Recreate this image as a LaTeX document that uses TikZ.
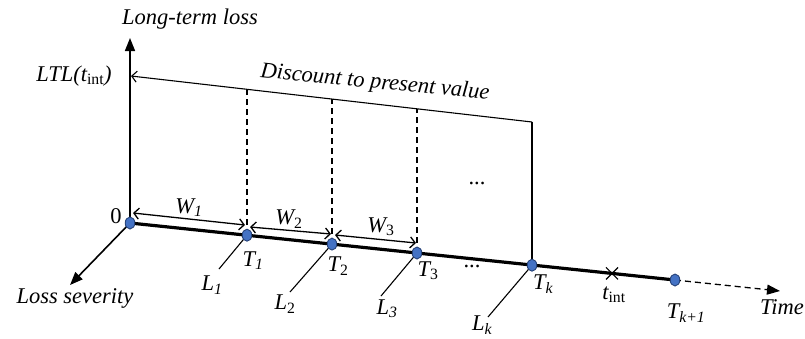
\documentclass[tikz,border=0pt]{standalone}
\usepackage{fontspec}
\setmainfont{Liberation Serif}
\usetikzlibrary{arrows.meta,shapes.geometric}
\definecolor{dotblue}{RGB}{68,114,196}
\definecolor{dotedge}{RGB}{38,66,120}
\newcommand\mysub[1]{\textsubscript{#1}}
\begin{document}
\begin{tikzpicture}[x=1pt,y=-1pt,
  lbl/.style={inner sep=0pt, font=\fontsize{22.5}{26}\selectfont\itshape},
  rlbl/.style={inner sep=0pt, font=\fontsize{22.5}{26}\selectfont},
  dotn/.style={ellipse,draw=dotedge,line width=0.9pt,fill=dotblue,minimum width=9.5pt,minimum height=12pt,inner sep=0pt},
  mainaxis/.style={line width=1.6pt,-{Triangle[length=13pt,width=10pt]}},
  thinline/.style={line width=1.1pt},
  dashline/.style={line width=1.1pt,dash pattern=on 6pt off 4pt},
  warrow/.style={line width=1.3pt,{Straight Barb[length=5pt,width=11pt]}-{Straight Barb[length=5pt,width=11pt]}},
  timeline/.style={line width=3.2pt}]
\useasboundingbox (0,0) rectangle (805,338);
% key points
\coordinate (pO) at (130,223);
\coordinate (p1) at (247,235.2);
\coordinate (p2) at (332,244.1);
\coordinate (p3) at (417,253);
\coordinate (pk) at (532,265.2);
\coordinate (pk1) at (675,280);
\coordinate (tint) at (612,273.4);
\coordinate (ytop) at (130,38);
\coordinate (tend) at (780,291);
\coordinate (sevend) at (70,285);
\coordinate (corner) at (532,122);
\coordinate (ltl) at (131,76);
\coordinate (d1) at (247,89.5);
\coordinate (d2) at (332,99.2);
\coordinate (d3) at (417,109);
\coordinate (l1) at (219,269);
\coordinate (l2) at (290,292);
\coordinate (l3) at (381,296);
\coordinate (lk) at (488,317);
\coordinate (w1a) at (133,213);
\coordinate (w1b) at (245,225);
\coordinate (w2a) at (250,227);
\coordinate (w2b) at (331,234);
\coordinate (w3a) at (335,235);
\coordinate (w3b) at (416,243);
% axes
\draw[mainaxis] (pO) -- (ytop);
\draw[mainaxis] (pO) -- (sevend);
\draw[timeline] (pO) -- (pk1);
\draw[line width=1.3pt,dash pattern=on 6pt off 4pt,-{Triangle[length=13pt,width=10pt]}] (pk1) -- (tend);
% discount line
\draw[thinline] (pk) -- (corner);
\draw[thinline,-{Straight Barb[length=5pt,width=11pt]}] (corner) -- (ltl);
\draw[dashline] (p1) -- (d1);
\draw[dashline] (p2) -- (d2);
\draw[dashline] (p3) -- (d3);
% loss lines
\draw[thinline] (p1) -- (l1);
\draw[thinline] (p2) -- (l2);
\draw[thinline] (p3) -- (l3);
\draw[thinline] (pk) -- (lk);
% W arrows
\draw[warrow] (w1a) -- (w1b);
\draw[warrow] (w2a) -- (w2b);
\draw[warrow] (w3a) -- (w3b);
% cross
\draw[line width=1.2pt] ([shift={(-6,-6)}]tint) -- ([shift={(6,6)}]tint);
\draw[line width=1.2pt] ([shift={(-6,6)}]tint) -- ([shift={(6,-6)}]tint);
% dots
\node[dotn] (dO) at (pO) {};
\node[dotn] (d1n) at (p1) {};
\node[dotn] (d2n) at (p2) {};
\node[dotn] (d3n) at (p3) {};
\node[dotn] (dkn) at (pk) {};
\node[dotn] (dk1n) at (pk1) {};
% labels
\node[lbl] (ylab) at (190,19) {Long-term loss};
\node[lbl] (ltllab) at (74,76) {LTL(\textit{t}\mysub{\upshape int})};
\node[lbl,rotate=-5.5] (disc) at (375,83) {Discount to present value};
\node[rlbl] (zero) at (116,216) {0};
\node[lbl] (sevlab) at (75,298) {Loss severity};
\node[lbl] (timelab) at (782,307) {Time};
\node[lbl] (W1) at (189,208) {W\mysub{1}};
\node[lbl] (W2) at (289,219) {W\mysub{\upshape 2}};
\node[lbl] (W3) at (381,227) {W\mysub{\upshape 3}};
\node[lbl] (T1) at (253,261) {T\mysub{1}};
\node[lbl] (T2) at (338,266) {T\mysub{\upshape 2}};
\node[lbl] (T3) at (428,271) {T\mysub{\upshape 3}};
\node[lbl] (Tk) at (543,284) {T\mysub{k}};
\node[lbl] (tintlab) at (614,295) {t\mysub{\upshape int}};
\node[lbl] (Tk1) at (686,313) {T\mysub{k+1}};
\node[lbl] (L1) at (212,285) {L\mysub{1}};
\node[lbl] (L2) at (285,304) {L\mysub{\upshape 2}};
\node[lbl] (L3) at (387,309) {L\mysub{3}};
\node[lbl] (Lk) at (482,325) {L\mysub{k}};
\node[rlbl] (dotsup) at (477,183) {...};
\node[rlbl] (dotslow) at (472,266) {...};
\end{tikzpicture}
\end{document}
